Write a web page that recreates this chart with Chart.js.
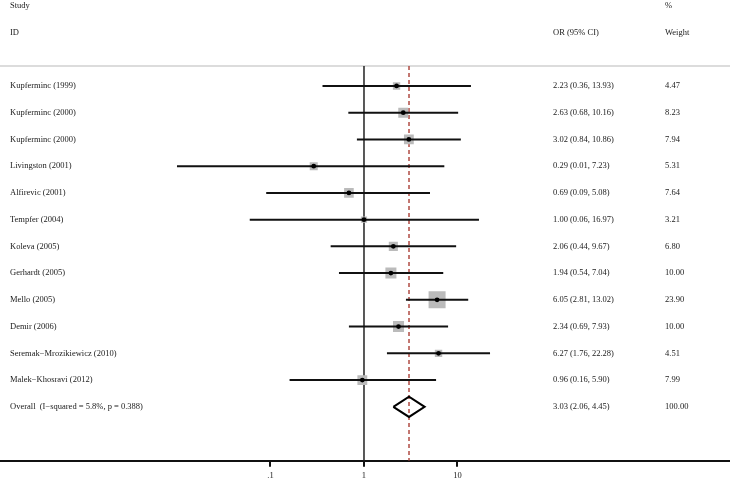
<!DOCTYPE html>
<html>
<head>
<meta charset="utf-8">
<script src="https://cdn.jsdelivr.net/npm/chart.js@4.4.0/dist/chart.umd.min.js"></script>
<style>
  html, body { margin: 0; padding: 0; background: #fff; }
  canvas { display: block; }
</style>
</head>
<body>
<canvas id="forestChart" width="730" height="482"></canvas>
<script>
const studies = [
    'Kupferminc (1999)', 'Kupferminc (2000)', 'Kupferminc (2000)', 'Livingston (2001)',
    'Alfirevic (2001)', 'Tempfer (2004)', 'Koleva (2005)', 'Gerhardt (2005)',
    'Mello (2005)', 'Demir (2006)', 'Seremak\u2212Mrozikiewicz (2010)', 'Malek\u2212Khosravi (2012)'
];
const oddsRatios = [2.23, 2.63, 3.02, 0.29, 0.69, 1.00, 2.06, 1.94, 6.05, 2.34, 6.27, 0.96];
const ciLower = [0.36, 0.68, 0.84, 0.01, 0.09, 0.06, 0.44, 0.54, 2.81, 0.69, 1.76, 0.16];
const ciUpper = [13.93, 10.16, 10.86, 7.23, 5.08, 16.97, 9.67, 7.04, 13.02, 7.93, 22.28, 5.90];
const weights = [4.47, 8.23, 7.94, 5.31, 7.64, 3.21, 6.80, 10.00, 23.90, 10.00, 4.51, 7.99];

const overallLabel = 'Overall  (I\u2212squared = 5.8%, p = 0.388)';
const overallOR = 3.03;
const overallLower = 2.06;
const overallUpper = 4.45;
const overallWeight = 100.00;

const tickValues = [0.1, 1, 10];
const tickLabels = ['.1', '1', '10'];

// scale ranges (the axis runs across the whole picture, like the Stata output)
const xMin = 0.000128;
const xMax = 8210;
const yMin = -2.215;
const yMax = 15.02;
const topRule = 0.25;
const overallRow = studies.length + 1;

const FONT = '"Liberation Serif", "DejaVu Serif", serif';

const ciSets = studies.map((s, i) => ({
    data: [{ x: ciLower[i], y: i + 1 }, { x: ciUpper[i], y: i + 1 }],
    showLine: true,
    borderColor: '#111',
    borderWidth: 2,
    pointRadius: 0,
    order: 1
}));

const textPlugin = {
    id: 'forestText',
    afterDatasetsDraw(chart) {
        const ctx = chart.ctx;
        const y = chart.scales.y;
        ctx.save();
        ctx.font = '8.5px ' + FONT;
        ctx.fillStyle = '#1a1a1a';
        ctx.textBaseline = 'middle';
        ctx.textAlign = 'left';
        ctx.fillText('Study', 10, y.getPixelForValue(-2));
        ctx.fillText('ID', 10, y.getPixelForValue(-1));
        ctx.fillText('OR (95% CI)', 553, y.getPixelForValue(-1));
        ctx.fillText('%', 665, y.getPixelForValue(-2));
        ctx.fillText('Weight', 665, y.getPixelForValue(-1));
        studies.forEach((s, i) => {
            const py = y.getPixelForValue(i + 1);
            ctx.fillText(s, 10, py);
            ctx.fillText(`${oddsRatios[i].toFixed(2)} (${ciLower[i].toFixed(2)}, ${ciUpper[i].toFixed(2)})`, 553, py);
            ctx.fillText(weights[i].toFixed(2), 665, py);
        });
        const oy = y.getPixelForValue(overallRow);
        ctx.fillText(overallLabel, 10, oy);
        ctx.fillText(`${overallOR.toFixed(2)} (${overallLower.toFixed(2)}, ${overallUpper.toFixed(2)})`, 553, oy);
        ctx.fillText(overallWeight.toFixed(2), 665, oy);
        ctx.restore();
    }
};

new Chart(document.getElementById('forestChart').getContext('2d'), {
    type: 'scatter',
    data: {
        datasets: [
            {   // study point estimates
                data: oddsRatios.map((v, i) => ({ x: v, y: i + 1 })),
                pointStyle: 'circle',
                pointRadius: 2.4,
                backgroundColor: '#000',
                borderWidth: 0,
                order: 0
            },
            ...ciSets,
            {   // overall diamond
                data: [
                    { x: overallLower, y: overallRow },
                    { x: overallOR, y: overallRow - 0.38 },
                    { x: overallUpper, y: overallRow },
                    { x: overallOR, y: overallRow + 0.38 },
                    { x: overallLower, y: overallRow }
                ],
                showLine: true,
                borderColor: '#000',
                borderWidth: 2,
                pointRadius: 0,
                order: 1
            },
            {   // weight boxes
                data: oddsRatios.map((v, i) => ({ x: v, y: i + 1 })),
                pointStyle: 'rect',
                pointRadius: weights.map(w => 2.46 * Math.sqrt(w)),
                backgroundColor: '#bbbbbb',
                borderWidth: 0,
                order: 2
            },
            {   // overall estimate line
                data: [{ x: overallOR, y: topRule }, { x: overallOR, y: yMax }],
                showLine: true,
                borderColor: '#b04a42',
                borderWidth: 1.5,
                borderDash: [4, 3],
                pointRadius: 0,
                order: 3
            },
            {   // null line
                data: [{ x: 1, y: topRule }, { x: 1, y: yMax }],
                showLine: true,
                borderColor: '#222',
                borderWidth: 1.5,
                pointRadius: 0,
                order: 4
            },
            {   // header rule
                data: [{ x: xMin, y: topRule }, { x: xMax, y: topRule }],
                showLine: true,
                borderColor: '#d0d0d0',
                borderWidth: 1.5,
                pointRadius: 0,
                order: 5
            }
        ]
    },
    options: {
        responsive: false,
        animation: false,
        layout: { autoPadding: false, padding: { left: 0, right: 0, top: 0, bottom: -3 } },
        plugins: {
            legend: { display: false },
            tooltip: { enabled: false }
        },
        scales: {
            x: {
                type: 'logarithmic',
                min: xMin,
                max: xMax,
                afterBuildTicks: (scale) => { scale.ticks = tickValues.map(v => ({ value: v })); },
                ticks: {
                    autoSkip: false,
                    maxRotation: 0,
                    padding: 4,
                    color: '#222',
                    font: { family: FONT, size: 8.5 },
                    callback: (v, i) => tickLabels[i]
                },
                grid: { drawOnChartArea: false, drawTicks: true, tickLength: 6, color: '#111', lineWidth: 2 },
                border: { display: true, color: '#111', width: 2 }
            },
            y: {
                type: 'linear',
                display: false,
                reverse: true,
                min: yMin,
                max: yMax
            }
        }
    },
    plugins: [textPlugin]
});
</script>
</body>
</html>
